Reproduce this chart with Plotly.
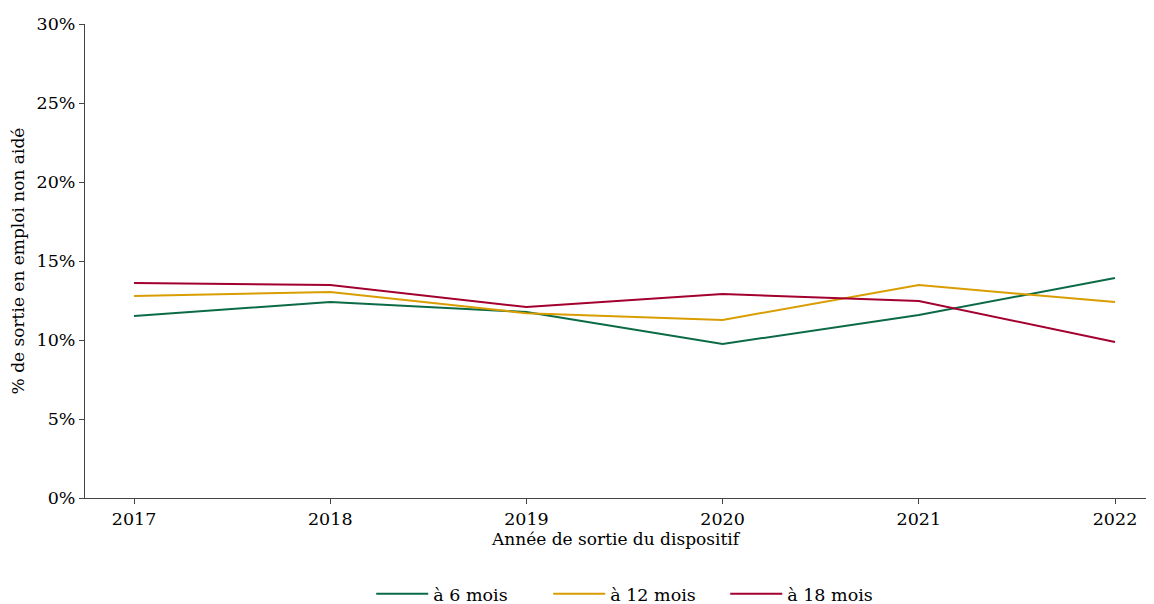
import plotly.graph_objects as go

# données
annees = [2017, 2018, 2019, 2020, 2021, 2022]
six_mois = [0.1152, 0.1240, 0.1177, 0.0975, 0.1158, 0.1392]
douze_mois = [0.1278, 0.1304, 0.1170, 0.1127, 0.1348, 0.1240]
dix_huit_mois = [0.1360, 0.1348, 0.1209, 0.1291, 0.1247, 0.0987]

series = [
    ("à 6 mois", six_mois, "#0b6b47"),
    ("à 12 mois", douze_mois, "#d99d00"),
    ("à 18 mois", dix_huit_mois, "#a3002f"),
]

font_serif = "DejaVu Serif"

fig = go.Figure()
for nom, valeurs, couleur in series:
    fig.add_trace(go.Scatter(
        x=annees, y=valeurs, mode="lines", name=nom,
        line=dict(color=couleur, width=2),
    ))

# la page a une marge de 8 px : figure un peu plus petite que la fenêtre
fig.update_layout(
    width=1138, height=596,
    paper_bgcolor="white", plot_bgcolor="white",
    margin=dict(l=77, r=0, t=16, b=106, autoexpand=False),
    font=dict(family=font_serif, size=17.5, color="black"),
    legend=dict(orientation="h", x=0.52, xanchor="center", y=-0.2025, yanchor="middle",
                font=dict(size=17.5), itemwidth=52,
                entrywidth=110, entrywidthmode="pixels"),
    showlegend=True,
)

fig.update_xaxes(
    range=[2016.75, 2022.158], tickvals=annees, ticktext=[str(a) for a in annees],
    showline=True, linecolor="#444", linewidth=1, ticks="outside", ticklen=5,
    tickcolor="#444", showgrid=False, zeroline=False, automargin=True,
    tickfont=dict(size=17.5),
    title=dict(text="Année de sortie du dispositif", font=dict(size=17), standoff=4),
)
fig.update_yaxes(
    range=[0, 0.30], tickvals=[0, 0.05, 0.10, 0.15, 0.20, 0.25, 0.30],
    tickformat=".0%", showline=True, linecolor="#444", linewidth=1,
    ticks="outside", ticklen=5, tickcolor="#444", showgrid=False, zeroline=False,
    automargin=True, tickfont=dict(size=17.5),
    title=dict(text="% de sortie en emploi non aidé", font=dict(size=17), standoff=8),
)

fig.write_html("out.html")
